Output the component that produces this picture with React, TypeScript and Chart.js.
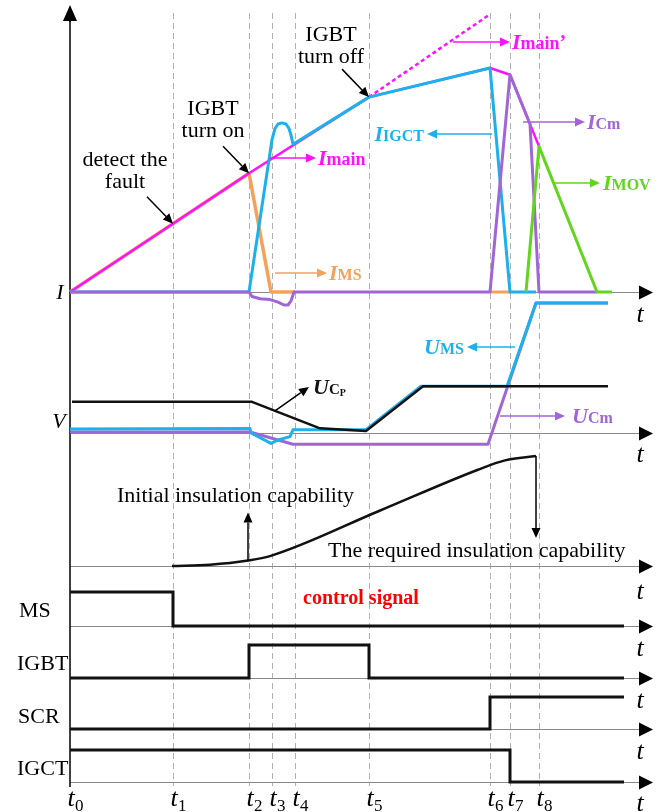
import React, { useEffect, useRef } from "react";
import { Chart, registerables } from "chart.js";

Chart.register(...registerables);

const W = 663;
const H = 812;
const SERIF = '"Liberation Serif", "Times New Roman", Times, serif';

// ---------- time axis ----------
const tickTimes = [0, 1.03, 1.79, 2.02, 2.25, 2.99, 4.2, 4.4, 4.69];
const tickLabels = ["0", "1", "2", "3", "4", "5", "6", "7", "8"];
const signalEnd = 5.54;
const axisTip = 5.83;

// ---------- panel 1 : currents (value 1 = peak of I_main) ----------
const iMain = [[0, 0], [1.79, 0.53], [2.99, 0.87], [4.2, 1.0], [4.4, 0.97], [4.69, 0.65]];
const iMainPrime = [[2.99, 0.87], [4.2, 1.24]];
const iIGCT = [[0, 0], [1.79, 0], [2.02, 0.68], [2.05, 0.73], [2.08, 0.75], [2.12, 0.755], [2.16, 0.75], [2.19, 0.73], [2.21, 0.7], [2.23, 0.66], [2.99, 0.87], [4.2, 1.0], [4.4, 0], [4.66, 0]];
const iMS = [[0, 0], [1.79, 0.53], [2.01, 0], [2.25, 0]];
const iMSTail = [[4.2, 0], [4.4, 0]];
const iCm = [[0, 0], [1.79, 0], [1.82, -0.02], [1.9, -0.03], [2.0, -0.034], [2.08, -0.045], [2.14, -0.058], [2.18, -0.058], [2.21, -0.04], [2.24, 0], [4.2, 0], [4.4, 0.97], [4.6, 0.75], [4.69, 0], [5.27, 0]];
const iMOV = [[4.56, 0], [4.69, 0.65], [5.27, 0], [5.42, 0]];

// ---------- panel 2 : voltages (value 1 = final U_MS) ----------
const uCp = [[0.02, 0.24], [1.82, 0.24], [2.5, 0.036], [2.96, 0.015], [3.53, 0.36], [5.38, 0.36]];
const uMS = [[0, 0.03], [1.8, 0.035], [1.81, 0], [2.01, -0.08], [2.08, -0.054], [2.2, -0.028], [2.23, 0.025], [2.96, 0.025], [3.51, 0.36], [4.37, 0.36], [4.66, 1.0], [5.38, 1.0]];
const uCm = [[0, 0.008], [1.8, 0.008], [2.23, -0.087], [4.18, -0.087], [4.66, 1.0], [5.38, 1.0]];

// ---------- panel 3 : insulation capability ----------
const insulation = [[1.02, 0], [1.4, 0.012], [1.78, 0.05], [2.0, 0.09], [3.09, 0.5], [4.08, 0.875], [4.35, 0.96], [4.66, 1.0]];

// ---------- control signals (0 / 1) ----------
const msSignal = [[tickTimes[0], 1], [tickTimes[1], 1], [tickTimes[1], 0], [signalEnd, 0]];
const igbtSignal = [[tickTimes[0], 0], [tickTimes[2], 0], [tickTimes[2], 1], [tickTimes[5], 1], [tickTimes[5], 0], [signalEnd, 0]];
const scrSignal = [[tickTimes[0], 0], [tickTimes[6], 0], [tickTimes[6], 1], [signalEnd, 1]];
const igctSignal = [[tickTimes[0], 1], [tickTimes[7], 1], [tickTimes[7], 0], [signalEnd, 0]];

// ---------- layout of panels (baseline pixel, pixels per unit) ----------
const panels = [
  { id: "yI", base: 292, gain: 224, tY: 322 },
  { id: "yV", base: 433, gain: 130, tY: 462 },
  { id: "yIns", base: 566, gain: 110, tY: 599 },
  { id: "yMS", base: 626, gain: 34, tY: 656 },
  { id: "yIGBT", base: 678, gain: 33, tY: 708 },
  { id: "ySCR", base: 729, gain: 32, tY: 759 },
  { id: "yIGCT", base: 782, gain: 32, tY: 811 },
];

const MAG = "#ff10ff";
const BLUE = "#1cb0ec";
const ORANGE = "#f5a15a";
const PURPLE = "#a066d6";
const GREEN = "#62d61e";
const BLACK = "#111111";

const f = (size: number, bold = false, italic = false) =>
  `${italic ? "italic " : ""}${bold ? "bold " : ""}${size}px ${SERIF}`;

function drawArrow(ctx: CanvasRenderingContext2D, x1: number, y1: number, x2: number, y2: number, color: string, lw = 1.5, len = 10, hw = 4) {
  const a = Math.atan2(y2 - y1, x2 - x1);
  const bx = x2 - len * Math.cos(a);
  const by = y2 - len * Math.sin(a);
  ctx.strokeStyle = color;
  ctx.lineWidth = lw;
  ctx.beginPath();
  ctx.moveTo(x1, y1);
  ctx.lineTo(bx, by);
  ctx.stroke();
  ctx.fillStyle = color;
  ctx.beginPath();
  ctx.moveTo(x2, y2);
  ctx.lineTo(bx + hw * Math.sin(a), by - hw * Math.cos(a));
  ctx.lineTo(bx - hw * Math.sin(a), by + hw * Math.cos(a));
  ctx.closePath();
  ctx.fill();
}

type Part = [string, string, number?];
function drawRich(ctx: CanvasRenderingContext2D, parts: Part[], x: number, y: number, color: string, align: "left" | "right" | "center" = "left") {
  ctx.textAlign = "left";
  ctx.textBaseline = "alphabetic";
  let total = 0;
  parts.forEach(([t, fo]) => {
    ctx.font = fo;
    total += ctx.measureText(t).width;
  });
  let cx = align === "right" ? x - total : align === "center" ? x - total / 2 : x;
  ctx.fillStyle = color;
  parts.forEach(([t, fo, dy]) => {
    ctx.font = fo;
    ctx.fillText(t, cx, y + (dy || 0));
    cx += ctx.measureText(t).width;
  });
}

const BI = f(22, true, true);
const SUB = f(16, true);

const richLabels: { parts: Part[]; x: number; y: number; color: string; align: "left" | "right" | "center" }[] = [
  { parts: [["I", BI], ["main", f(18, true)]], x: 318, y: 165, color: MAG, align: "left" },
  { parts: [["I", BI], ["main", f(18, true)], ["\u2019", f(20, true)]], x: 512, y: 49, color: MAG, align: "left" },
  { parts: [["I", BI], ["IGCT", SUB]], x: 424, y: 141, color: BLUE, align: "right" },
  { parts: [["I", BI], ["Cm", SUB]], x: 587, y: 129, color: PURPLE, align: "left" },
  { parts: [["I", BI], ["MOV", SUB]], x: 603, y: 190, color: GREEN, align: "left" },
  { parts: [["I", BI], ["MS", SUB]], x: 329, y: 280, color: ORANGE, align: "left" },
  { parts: [["U", BI], ["MS", SUB]], x: 464, y: 354, color: BLUE, align: "right" },
  { parts: [["U", BI], ["Cm", SUB]], x: 572, y: 423, color: PURPLE, align: "left" },
  { parts: [["U", BI], ["C", f(15, true)], ["P", f(10, true), 2]], x: 313, y: 394, color: BLACK, align: "left" },
];

const colorArrows = [
  { x1: 270, y1: 158, x2: 316, y2: 158, color: MAG },
  { x1: 453, y1: 42, x2: 510, y2: 42, color: MAG },
  { x1: 492, y1: 134, x2: 427, y2: 134, color: BLUE },
  { x1: 523, y1: 122, x2: 585, y2: 122, color: PURPLE },
  { x1: 553, y1: 183, x2: 600, y2: 183, color: GREEN },
  { x1: 275, y1: 273, x2: 327, y2: 273, color: ORANGE },
  { x1: 515, y1: 347, x2: 467, y2: 347, color: BLUE },
  { x1: 500, y1: 416, x2: 565, y2: 416, color: PURPLE },
];

// pointer arrows anchored on curve points: "in" = arrow ends at the point, "out" = starts there
const pointerArrows = [
  { axis: "yI", t: tickTimes[1], v: 0.305, dx: -26, dy: -27, dir: "in" },
  { axis: "yI", t: tickTimes[2], v: 0.53, dx: -26, dy: -27, dir: "in" },
  { axis: "yI", t: tickTimes[5], v: 0.87, dx: -27, dy: -28, dir: "in" },
  { axis: "yV", t: 2.05, v: 0.17, dx: 34, dy: -24, dir: "out" },
  { axis: "yIns", t: 1.78, v: 0.05, dx: 0, dy: -48, dir: "out" },
  { axis: "yIns", t: 4.66, v: 1.0, dx: 0, dy: 82, dir: "out" },
];

const plainTexts = [
  { text: "detect the", x: 125, y: 166, align: "center" },
  { text: "fault", x: 125, y: 188, align: "center" },
  { text: "IGBT", x: 213, y: 115, align: "center" },
  { text: "turn on", x: 213, y: 137, align: "center" },
  { text: "IGBT", x: 331, y: 41, align: "center" },
  { text: "turn off", x: 331, y: 63, align: "center" },
  { text: "Initial insulation capability", x: 117, y: 502, align: "left" },
  { text: "The required insulation capability", x: 328, y: 557, align: "left" },
  { text: "MS", x: 19, y: 617, align: "left" },
  { text: "IGBT", x: 17, y: 670, align: "left" },
  { text: "SCR", x: 18, y: 723, align: "left" },
  { text: "IGCT", x: 17, y: 775, align: "left" },
];

const diagramPlugin = {
  id: "diagram",
  beforeDatasetsDraw(chart: any) {
    const ctx: CanvasRenderingContext2D = chart.ctx;
    const xs = chart.scales.x;
    ctx.save();
    // dashed time markers
    ctx.strokeStyle = "#b0b0b0";
    ctx.lineWidth = 1;
    ctx.setLineDash([6, 4]);
    tickTimes.slice(1).forEach((t) => {
      const x = Math.round(xs.getPixelForValue(t)) + 0.5;
      ctx.beginPath();
      ctx.moveTo(x, 13);
      ctx.lineTo(x, 786);
      ctx.stroke();
    });
    ctx.setLineDash([]);
    const x0 = xs.getPixelForValue(0);
    const xt = xs.getPixelForValue(axisTip);
    panels.forEach((p) => {
      const y = Math.round(chart.scales[p.id].getPixelForValue(0)) + 0.5;
      ctx.strokeStyle = "#8a8a8a";
      ctx.lineWidth = 1.2;
      ctx.beginPath();
      ctx.moveTo(x0, y);
      ctx.lineTo(xt - 12, y);
      ctx.stroke();
      drawArrow(ctx, xt - 14, y, xt, y, "#000", 1.2, 14, 7);
    });
    // vertical axis
    ctx.strokeStyle = "#000";
    ctx.lineWidth = 1.5;
    ctx.beginPath();
    ctx.moveTo(x0, 787);
    ctx.lineTo(x0, 18);
    ctx.stroke();
    drawArrow(ctx, x0, 22, x0, 5, "#000", 1.5, 16, 7);
    ctx.restore();
  },
  afterDatasetsDraw(chart: any) {
    const ctx: CanvasRenderingContext2D = chart.ctx;
    const xs = chart.scales.x;
    ctx.save();
    // pointer arrows
    pointerArrows.forEach((a) => {
      const px = xs.getPixelForValue(a.t);
      const py = chart.scales[a.axis].getPixelForValue(a.v);
      if (a.dir === "in") drawArrow(ctx, px + a.dx, py + a.dy, px, py, "#000", 1.5, 10, 4.5);
      else drawArrow(ctx, px, py, px + a.dx, py + a.dy, "#000", 1.5, 10, 4.5);
    });
    colorArrows.forEach((a) => drawArrow(ctx, a.x1, a.y1, a.x2, a.y2, a.color, 1.5, 10, 4.5));
    richLabels.forEach((l) => drawRich(ctx, l.parts, l.x, l.y, l.color, l.align));
    // plain texts
    ctx.fillStyle = "#000";
    ctx.textBaseline = "alphabetic";
    ctx.font = f(22);
    plainTexts.forEach((t) => {
      ctx.textAlign = t.align as CanvasTextAlign;
      ctx.fillText(t.text, t.x, t.y);
    });
    // control signal title
    ctx.fillStyle = "#ff0000";
    ctx.font = f(20, true);
    ctx.textAlign = "center";
    ctx.fillText("control signal", 361, 604);
    // axis letters
    ctx.fillStyle = "#000";
    ctx.font = f(22, false, true);
    ctx.fillText("I", 60, 299);
    ctx.fillText("V", 59, 428);
    ctx.font = f(26, false, true);
    panels.forEach((p) => ctx.fillText("t", 640, p.tY));
    // tick labels t0..t8
    tickTimes.forEach((t, i) => {
      const x = xs.getPixelForValue(t);
      ctx.font = f(26, false, true);
      ctx.textAlign = "center";
      ctx.fillText("t", x + 1, 806);
      ctx.textAlign = "left";
      ctx.font = f(17);
      ctx.fillText(tickLabels[i], x + 5, 811);
    });
    ctx.restore();
  },
};

function ds(label: string, pts: number[][], yAxisID: string, color: string, width: number, extra: any = {}) {
  return {
    label,
    data: pts.map(([x, y]) => ({ x, y })),
    yAxisID,
    borderColor: color,
    backgroundColor: color,
    borderWidth: width,
    showLine: true,
    pointRadius: 0,
    fill: false,
    tension: 0,
    borderJoinStyle: "round",
    ...extra,
  };
}

export default function App() {
  const ref = useRef<HTMLCanvasElement | null>(null);
  useEffect(() => {
    if (!ref.current) return;
    const list = [
      ds("I_MS", iMS, "yI", ORANGE, 3.5),
      ds("I_MS tail", iMSTail, "yI", ORANGE, 3),
      ds("I_main", iMain, "yI", MAG, 2.5),
      ds("I_main'", iMainPrime, "yI", MAG, 2.5, { borderDash: [4, 3], borderCapStyle: "butt" }),
      ds("I_IGCT", iIGCT, "yI", BLUE, 3),
      ds("I_Cm", iCm, "yI", PURPLE, 3),
      ds("I_MOV", iMOV, "yI", GREEN, 3),
      ds("U_Cm", uCm, "yV", PURPLE, 3),
      ds("U_MS", uMS, "yV", BLUE, 3),
      ds("U_Cp", uCp, "yV", BLACK, 2.5),
      ds("insulation", insulation, "yIns", BLACK, 2.5, { cubicInterpolationMode: "monotone" }),
      ds("MS", msSignal, "yMS", BLACK, 3, { borderJoinStyle: "miter" }),
      ds("IGBT", igbtSignal, "yIGBT", BLACK, 3, { borderJoinStyle: "miter" }),
      ds("SCR", scrSignal, "ySCR", BLACK, 3, { borderJoinStyle: "miter" }),
      ds("IGCT", igctSignal, "yIGCT", BLACK, 3, { borderJoinStyle: "miter" }),
    ];
    const datasets = list.map((d, i) => ({ ...d, order: -i }));
    const scales: any = {
      x: { type: "linear", min: -0.7, max: 5.93, display: false },
    };
    panels.forEach((p) => {
      scales[p.id] = {
        type: "linear",
        display: false,
        min: -(H - p.base) / p.gain,
        max: p.base / p.gain,
      };
    });
    const chart = new Chart(ref.current, {
      type: "scatter",
      data: { datasets } as any,
      options: {
        responsive: false,
        maintainAspectRatio: false,
        animation: false,
        devicePixelRatio: 1,
        events: [],
        layout: { padding: 0 },
        plugins: { legend: { display: false }, tooltip: { enabled: false } },
        scales,
      } as any,
      plugins: [diagramPlugin],
    });
    return () => chart.destroy();
  }, []);
  return (
    <div style={{ position: "absolute", left: 0, top: 0, width: W, height: H, background: "#fff" }}>
      <canvas ref={ref} width={W} height={H} style={{ width: W, height: H, display: "block" }} />
    </div>
  );
}
